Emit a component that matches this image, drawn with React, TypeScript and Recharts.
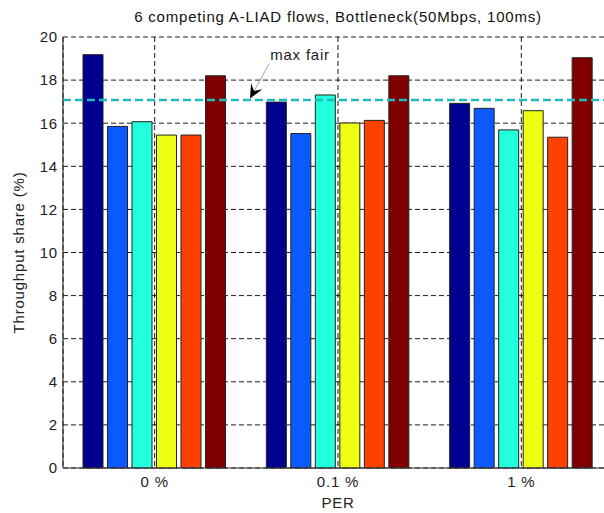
import React from 'react';
import { BarChart, Bar, XAxis, YAxis, CartesianGrid, ReferenceLine, ReferenceDot } from 'recharts';

const categories = ['0 %', '0.1 %', '1 %'];
const positions = [1, 2, 3];
const flow1 = [19.18, 16.98, 16.92];
const flow2 = [15.85, 15.52, 16.69];
const flow3 = [16.07, 17.31, 15.69];
const flow4 = [15.45, 16.01, 16.58];
const flow5 = [15.45, 16.13, 15.35];
const flow6 = [18.2, 18.2, 19.04];
const yTicks = [0, 2, 4, 6, 8, 10, 12, 14, 16, 18, 20];
const maxFair = 17.08;
const arrowFrom = { x: 1.625, y: 18.77 };
const arrowTo = { x: 1.52, y: 17.15 };
const maxFairLabelPos = { x: 1.793, y: 19.2 };

const seriesKeys = ['f1', 'f2', 'f3', 'f4', 'f5', 'f6'];
const seriesColors = ['#000090', '#0a5aff', '#22ffdc', '#eeff12', '#ff4100', '#800000'];
const seriesValues = [flow1, flow2, flow3, flow4, flow5, flow6];

const data = categories.map((cat, i) => {
  const row: Record<string, any> = { cat, pos: positions[i] };
  seriesKeys.forEach((k, j) => {
    row[k] = seriesValues[j][i];
  });
  return row;
});

const FONT = '"Liberation Sans", Arial, Helvetica, sans-serif';
const LS = 0.8;

const ArrowShape = (props: any) => {
  const { x1, y1, x2, y2 } = props;
  if ([x1, y1, x2, y2].some((v) => typeof v !== 'number' || isNaN(v))) return null;
  const dx = x2 - x1;
  const dy = y2 - y1;
  const len = Math.sqrt(dx * dx + dy * dy) || 1;
  const ux = dx / len;
  const uy = dy / len;
  const nx = -uy;
  const ny = ux;
  const L = 14;
  const W = 6.5;
  const bx = x2 - ux * L;
  const by = y2 - uy * L;
  const mx = x2 - ux * L * 0.6;
  const my = y2 - uy * L * 0.6;
  const pts = `${x2},${y2} ${bx + nx * W},${by + ny * W} ${mx},${my} ${bx - nx * W},${by - ny * W}`;
  return (
    <g>
      <line x1={x1} y1={y1} x2={mx} y2={my} stroke="#999" strokeWidth={0.9} />
      <polygon points={pts} fill="#000" />
    </g>
  );
};

export default function App() {
  return (
    <div style={{ position: 'absolute', left: 0, top: 0, width: 604, height: 513, overflow: 'hidden', background: '#fff' }}>
      <div
        style={{
          position: 'absolute',
          left: 63,
          width: 550,
          top: 8,
          textAlign: 'center',
          fontFamily: FONT,
          fontSize: 15,
          letterSpacing: LS,
          color: '#111',
          lineHeight: '18px',
        }}
      >
        6 competing A-LIAD flows, Bottleneck(50Mbps, 100ms)
      </div>
      <div style={{ position: 'absolute', left: 0, top: 0 }}>
        <BarChart
          width={625}
          height={513}
          data={data}
          margin={{ top: 37, right: 12, bottom: 15, left: 0 }}
          barSize={20}
          barGap={4.5}
          style={{ fontFamily: FONT }}
        >
          <CartesianGrid stroke="#000" strokeDasharray="5 3" strokeWidth={0.9} />
          <XAxis
            dataKey="cat"
            height={30}
            tickSize={0}
            tickMargin={8}
            tick={{ fill: '#222', fontSize: 15, fontFamily: FONT, letterSpacing: LS }}
            axisLine={{ stroke: '#333', strokeWidth: 1.2 }}
            tickLine={false}
            label={{ value: 'PER', position: 'bottom', offset: -1, fill: '#222', fontSize: 15, fontFamily: FONT, letterSpacing: LS }}
          />
          <XAxis
            xAxisId="top"
            orientation="top"
            dataKey="cat"
            height={0}
            tick={false}
            tickLine={false}
            axisLine={{ stroke: '#333', strokeWidth: 1.2 }}
          />
          <XAxis xAxisId="num" type="number" dataKey="pos" domain={[0.5, 3.5]} hide allowDataOverflow />
          <YAxis
            width={63}
            domain={[0, 20]}
            ticks={yTicks}
            interval={0}
            tickSize={0}
            tickMargin={5}
            tick={{ fill: '#222', fontSize: 15, fontFamily: FONT, letterSpacing: LS }}
            axisLine={{ stroke: '#333', strokeWidth: 1.2 }}
            tickLine={false}
            label={{
              value: 'Throughput share (%)',
              angle: -90,
              position: 'insideLeft',
              offset: 19,
              fill: '#222',
              fontSize: 15,
              fontFamily: FONT,
              letterSpacing: LS,
              style: { textAnchor: 'middle' },
            }}
          />
          {seriesKeys.map((k, j) => (
            <Bar key={k} dataKey={k} fill={seriesColors[j]} stroke="#222" strokeWidth={1} isAnimationActive={false} />
          ))}
          <ReferenceLine y={maxFair} stroke="#1fbcbc" strokeWidth={2.5} strokeDasharray="8 4" />
          <ReferenceLine
            xAxisId="num"
            segment={[arrowFrom, arrowTo]}
            shape={ArrowShape}
            ifOverflow="visible"
          />
          <ReferenceDot
            xAxisId="num"
            x={maxFairLabelPos.x}
            y={maxFairLabelPos.y}
            r={0}
            fill="none"
            stroke="none"
            ifOverflow="visible"
            label={{ value: 'max fair', position: 'center', fill: '#222', fontSize: 15, fontFamily: FONT, letterSpacing: LS }}
          />
        </BarChart>
      </div>
    </div>
  );
}
